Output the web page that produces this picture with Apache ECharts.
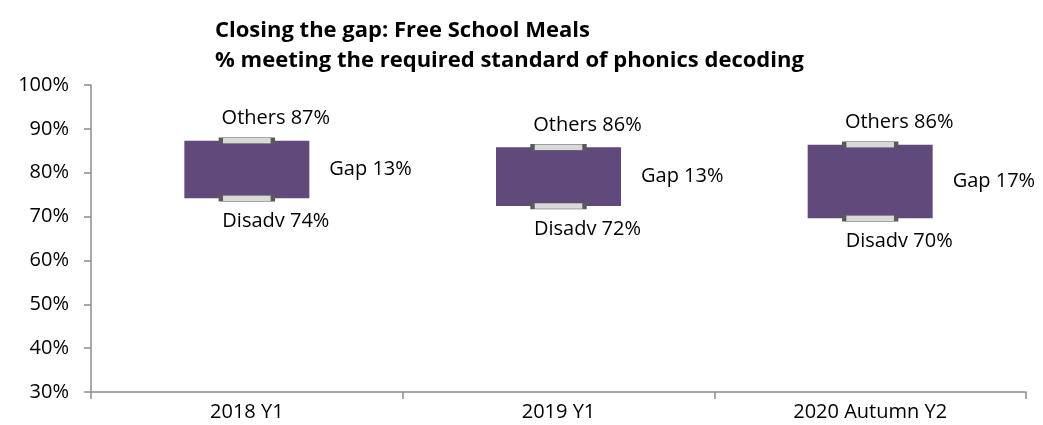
<!DOCTYPE html>
<html>
<head>
<meta charset="utf-8">
<script src="https://cdn.jsdelivr.net/npm/echarts@6/dist/echarts.min.js"></script>
<style>
html,body{margin:0;padding:0;background:#fff;}
#chart{width:1043px;height:425px;}
</style>
</head>
<body>
<div id="chart"></div>
<script>
const categories = ['2018 Y1', '2019 Y1', '2020 Autumn Y2'];
const others = [87.3, 85.8, 86.4];
const disadv = [74.2, 72.4, 69.6];
const yTicks = [30, 40, 50, 60, 70, 80, 90, 100];

const gap = others.map((v, i) => +(v - disadv[i]).toFixed(2));
const FONT = '"Open Sans", "DejaVu Sans", sans-serif';

const chart = echarts.init(document.getElementById('chart'), null, {renderer: 'canvas'});
chart.setOption({
  animation: false,
  backgroundColor: '#ffffff',
  title: {
    text: 'Closing the gap: Free School Meals\n% meeting the required standard of phonics decoding',
    left: 210,
    top: 11,
    textStyle: {fontFamily: FONT, fontSize: 22, fontWeight: 'bold', color: '#000', lineHeight: 30}
  },
  grid: {left: 91, right: 17, top: 85, bottom: 33, containLabel: false},
  xAxis: {
    type: 'category',
    data: categories,
    boundaryGap: true,
    axisLine: {lineStyle: {color: '#8c8c8c', width: 1.5}},
    axisTick: {show: true, length: 7, alignWithLabel: false, lineStyle: {color: '#8c8c8c', width: 1.5}},
    axisLabel: {fontFamily: FONT, fontSize: 20, color: '#000', margin: 10}
  },
  yAxis: {
    type: 'value',
    min: yTicks[0],
    max: yTicks[yTicks.length - 1],
    interval: 10,
    splitLine: {show: false},
    axisLine: {show: true, lineStyle: {color: '#8c8c8c', width: 1.5}},
    axisTick: {show: true, length: 7, lineStyle: {color: '#8c8c8c', width: 1.5}},
    axisLabel: {fontFamily: FONT, fontSize: 20, color: '#000', margin: 22, formatter: '{value}%'}
  },
  series: [
    {
      name: 'base',
      type: 'bar',
      stack: 'g',
      data: disadv,
      barWidth: 125,
      itemStyle: {color: 'transparent'},
      silent: true
    },
    {
      name: 'Gap',
      type: 'bar',
      stack: 'g',
      data: gap,
      barWidth: 125,
      itemStyle: {color: '#5f4a7b'},
      label: {
        show: true,
        position: 'right',
        distance: 20,
        fontFamily: FONT, fontSize: 20, color: '#000',
        formatter: p => 'Gap ' + Math.round(p.value) + '%'
      }
    },
    {
      name: 'Others',
      type: 'scatter',
      data: others,
      symbol: 'rect',
      symbolSize: [52, 6],
      z: 5,
      itemStyle: {color: '#d9d9d9', borderColor: '#595959', borderWidth: 1.5, opacity: 1},
      label: {
        show: true,
        position: 'top',
        distance: 9,
        offset: [29, 0],
        fontFamily: FONT, fontSize: 20, color: '#000',
        formatter: p => 'Others ' + Math.round(p.value) + '%'
      }
    },
    {
      name: 'Disadv',
      type: 'scatter',
      data: disadv,
      symbol: 'rect',
      symbolSize: [52, 6],
      z: 5,
      itemStyle: {color: '#d9d9d9', borderColor: '#595959', borderWidth: 1.5, opacity: 1},
      label: {
        show: true,
        position: 'bottom',
        distance: 10,
        offset: [29, 0],
        fontFamily: FONT, fontSize: 20, color: '#000',
        formatter: p => 'Disadv ' + Math.round(p.value) + '%'
      }
    }
  ]
});
</script>
</body>
</html>
